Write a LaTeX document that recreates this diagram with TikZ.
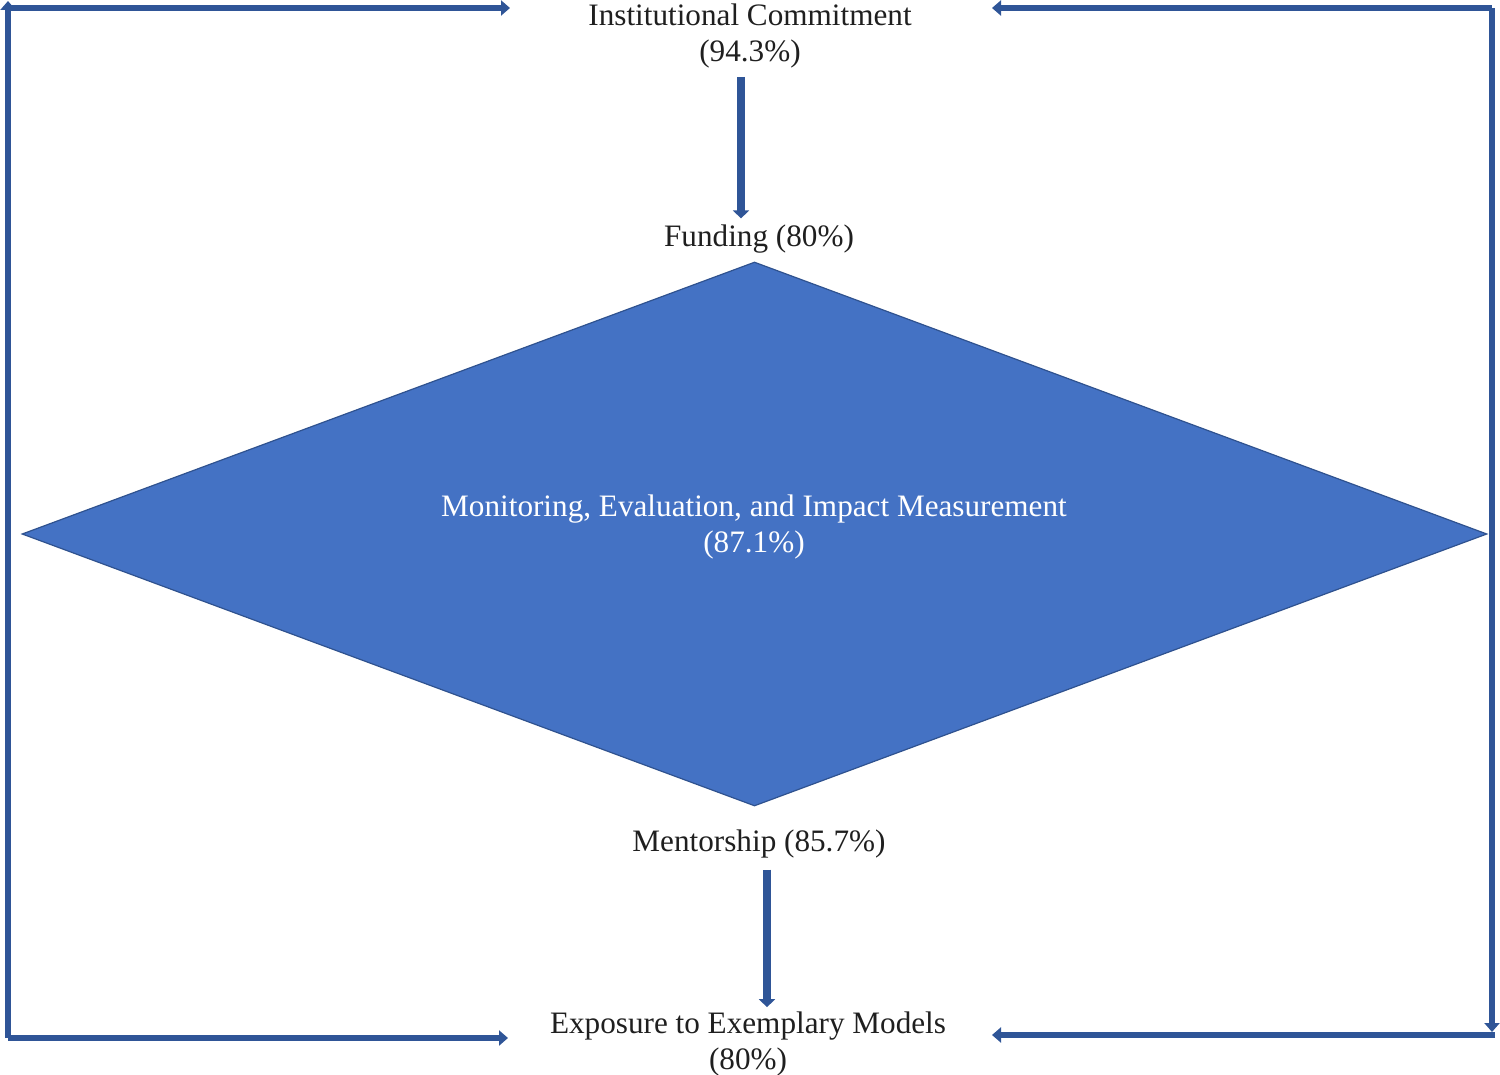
\documentclass[tikz,border=0pt]{standalone}
\usepackage{fontspec}
\setmainfont{Liberation Serif}
\usetikzlibrary{arrows.meta,calc,shapes.geometric}
\definecolor{framec}{HTML}{2F5597}
\definecolor{diafill}{HTML}{4472C4}
\definecolor{diaedge}{HTML}{2F528F}
\begin{document}
\begin{tikzpicture}[x=0.5pt,y=-0.5pt,
  lbl/.style={font=\fontsize{15.6}{18.3}\selectfont, align=center, inner sep=0pt, text=black!88},
  farrow/.style={draw=framec, line width=2.6pt, -{Triangle[width=7.5pt,length=4.5pt]}},
  varrow/.style={draw=framec, line width=4pt, -{Triangle[width=8pt,length=4pt]}},
  dia/.style={diamond, fill=diafill, draw=diaedge, line width=0.6pt, inner sep=0pt,
    minimum width=732.5pt, minimum height=272pt, aspect=2.69}
]
\useasboundingbox (0,0) rectangle (1500,1075);

% diamond
\node[dia] (dia) at (754.5,534) {};

% texts
\node[lbl] (ic) at (750,36) {Institutional Commitment\\(94.3\%)};
\node[lbl] (fund) at (759,239) {Funding (80\%)};
\node[lbl, text=white] (dtext) at (754,527) {Monitoring, Evaluation, and Impact Measurement\\(87.1\%)};
\node[lbl] (ment) at (759,844) {Mentorship (85.7\%)};
\node[lbl] (expo) at (748,1044) {Exposure to Exemplary Models\\(80\%)};

% vertical arrows
\coordinate (a1) at ([xshift=-4.5pt,yshift=-4pt]ic.south);
\draw[varrow, shorten >=3pt] (a1) -- (a1 |- fund.north);
\coordinate (a2) at ([xshift=4pt,yshift=-5.5pt]ment.south);
\draw[varrow, shorten >=2pt] (a2) -- (a2 |- expo.north);

% frame
\coordinate (tl) at (8,8);
\coordinate (tlup) at (8,1);
\coordinate (bl) at (8,1038);
\coordinate (tltip) at (510,8);
\coordinate (bltip) at (508,1038);
\coordinate (tr) at (1492,8);
\coordinate (trtip) at (992,8);
\coordinate (rdown) at (1492,1032);
\coordinate (br) at (1495,1035);
\coordinate (brtip) at (992,1035);

\draw[farrow] (bl) -- (tlup);
\draw[farrow] (tl) -- (tltip);
\draw[farrow] (bl) -- (bltip);
\draw[farrow] (tr) -- (trtip);
\draw[farrow] (tr) -- (rdown);
\draw[farrow] (br) -- (brtip);
\end{tikzpicture}
\end{document}
